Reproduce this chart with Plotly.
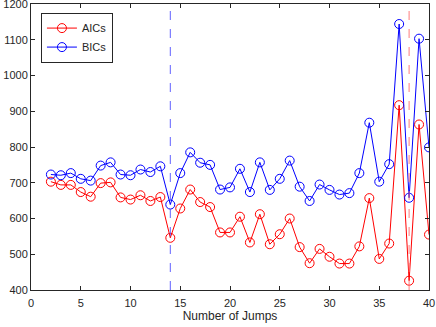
import plotly.graph_objects as go

jumps = list(range(2, 41))
aic = [703, 694, 694, 674, 661, 699, 701, 659, 653, 665, 649, 660, 546, 628, 681, 646, 632,
       561, 561, 605, 533, 612, 528, 556, 600, 520, 475, 515, 493, 474, 474, 522, 657, 487,
       530, 917, 426, 863, 555]
bic = [723, 721, 727, 711, 706, 748, 757, 723, 721, 737, 730, 746, 639, 727, 785, 756, 750,
       681, 687, 739, 674, 757, 680, 711, 762, 689, 649, 695, 680, 667, 671, 727, 868, 703,
       752, 1144, 658, 1103, 799]
aic_best = 38
bic_best = 14
x_ticks = [0, 5, 10, 15, 20, 25, 30, 35, 40]
y_ticks = [400, 500, 600, 700, 800, 900, 1000, 1100, 1200]

fig = go.Figure()
fig.add_trace(go.Scatter(x=jumps, y=aic, mode="lines+markers", name="AICs",
                         line=dict(color="#FF0000", width=1),
                         marker=dict(symbol="circle-open", size=9, color="#FF0000", line=dict(width=1))))
fig.add_trace(go.Scatter(x=jumps, y=bic, mode="lines+markers", name="BICs",
                         line=dict(color="#0000FF", width=1),
                         marker=dict(symbol="circle-open", size=9, color="#0000FF", line=dict(width=1))))

fig.add_shape(type="line", x0=bic_best, x1=bic_best, y0=0, y1=1, xref="x", yref="paper",
              line=dict(color="rgba(80,80,255,0.9)", width=1, dash="dash"))
fig.add_shape(type="line", x0=aic_best, x1=aic_best, y0=0, y1=1, xref="x", yref="paper",
              line=dict(color="rgba(255,110,110,0.9)", width=1, dash="dash"))

axis_common = dict(showgrid=False, zeroline=False, showline=True, linecolor="#262626", linewidth=1,
                   mirror="allticks", ticks="inside", ticklen=4, tickcolor="#262626",
                   automargin=False, ticklabeloverflow="allow",
                   tickfont=dict(family="Liberation Sans, Arial", size=11, color="#262626"))

fig.update_layout(
    width=436, height=327,
    margin=dict(l=31, r=7, t=4, b=37),
    paper_bgcolor="white", plot_bgcolor="white",
    font=dict(family="Liberation Sans, Arial", size=11, color="#262626"),
    xaxis=dict(range=[0, 40], tickvals=x_ticks, ticklabelstandoff=3,
               title=dict(text="Number of Jumps", standoff=0, font=dict(size=12)), **axis_common),
    yaxis=dict(range=[400, 1200], tickvals=y_ticks, **axis_common),
    legend=dict(x=0.025, y=0.97, xanchor="left", yanchor="top", bordercolor="#262626",
                borderwidth=1, bgcolor="white", font=dict(size=11), tracegroupgap=0,
                itemwidth=30),
    showlegend=True,
)

fig.write_html("out.html", config={"displayModeBar": False},
               post_script="document.body.style.margin='0';")
